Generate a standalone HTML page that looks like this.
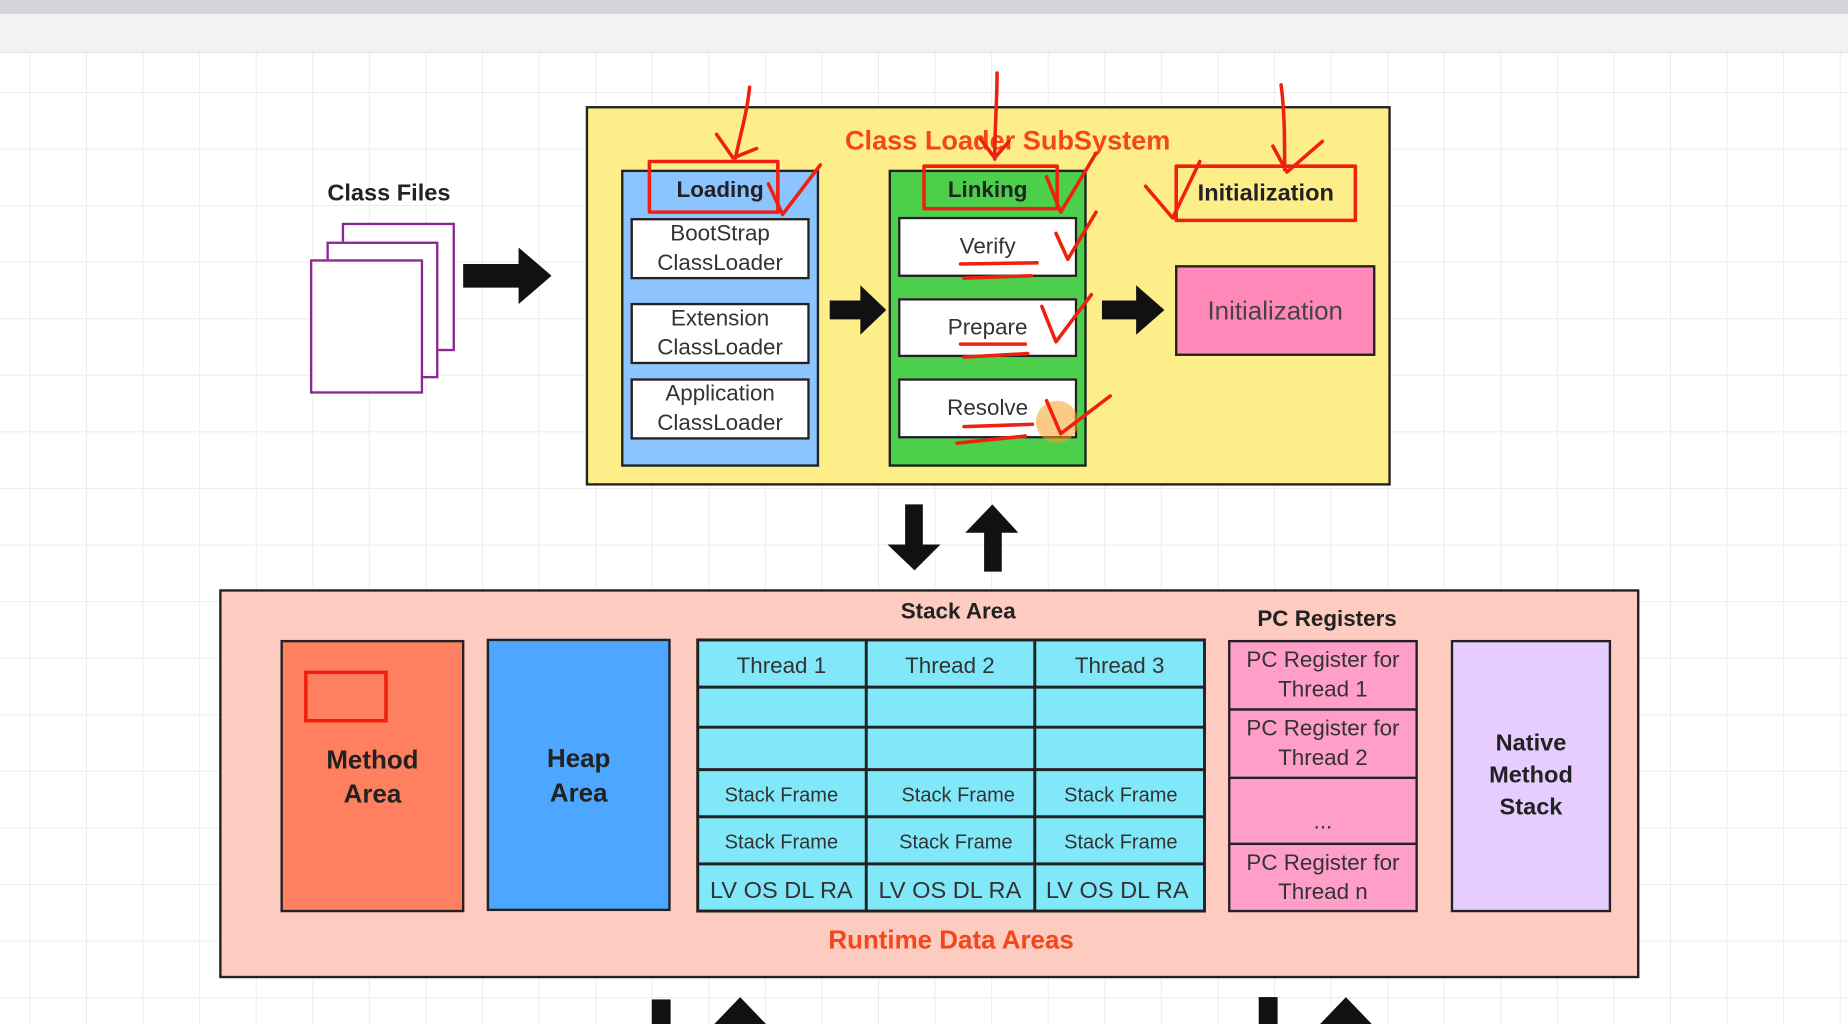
<!DOCTYPE html>
<html><head><meta charset="utf-8"><style>
html,body{margin:0;padding:0;width:1848px;height:1024px;overflow:hidden;background:#fff}
#w{position:absolute;left:0;top:0;width:1568px;height:869px;transform:scale(1.17857);transform-origin:0 0;font-family:"Liberation Sans","DejaVu Sans",sans-serif;
background-color:#fff;background-image:linear-gradient(#ececec 1px,transparent 1px),linear-gradient(90deg,#ececec 1px,transparent 1px);background-size:48px 48px;background-position:25px 30px}
.a{position:absolute;box-sizing:border-box}
.b{border:2px solid #222}
.c{display:flex;align-items:center;justify-content:center;text-align:center}
.t{color:#333;font-size:19px;line-height:25px}
.bold{font-weight:bold;color:#222}
.red{position:absolute;box-sizing:border-box;border:3px solid #f02010}
</style></head><body><div id="w">
<div class="a" style="left:0;top:0;width:1568px;height:12px;background:#d6d6da"></div>
<div class="a" style="left:0;top:12px;width:1568px;height:33px;background:#f2f2f2;border-bottom:1px solid #e4e4e4"></div>

<div class="a c bold" style="left:260px;top:150px;width:140px;height:28px;font-size:20px">Class Files</div>
<div class="a" style="left:290px;top:189px;width:96px;height:109px;border:2px solid #8a2a90;background:#fff"></div>
<div class="a" style="left:277px;top:205px;width:95px;height:116px;border:2px solid #8a2a90;background:#fff"></div>
<div class="a" style="left:263px;top:220px;width:96px;height:114px;border:2px solid #8a2a90;background:#fff"></div>

<div class="a b" style="left:497px;top:90px;width:683px;height:322px;background:#fdee8a"></div>
<div class="a c" style="left:650px;top:104px;width:410px;height:30px;font-size:23px;font-weight:bold;color:#f5451a">Class Loader SubSystem</div>

<div class="a b" style="left:527px;top:144px;width:168px;height:252px;background:#8cc4ff"></div>
<div class="a c bold" style="left:527px;top:148px;width:168px;height:28px;font-size:19px">Loading</div>
<div class="a b c t" style="left:535px;top:185px;width:152px;height:52px;background:#fff">BootStrap<br>ClassLoader</div>
<div class="a b c t" style="left:535px;top:257px;width:152px;height:52px;background:#fff">Extension<br>ClassLoader</div>
<div class="a b c t" style="left:535px;top:321px;width:152px;height:52px;background:#fff">Application<br>ClassLoader</div>

<div class="a b" style="left:754px;top:144px;width:168px;height:252px;background:#4cd04c"></div>
<div class="a c bold" style="left:754px;top:148px;width:168px;height:28px;font-size:19px">Linking</div>
<div class="a b c t" style="left:762px;top:184px;width:152px;height:51px;background:#fff">Verify</div>
<div class="a b c t" style="left:762px;top:253px;width:152px;height:50px;background:#fff">Prepare</div>
<div class="a b c t" style="left:762px;top:321px;width:152px;height:51px;background:#fff">Resolve</div>

<div class="a c bold" style="left:998px;top:143px;width:152px;height:42px;font-size:20px">Initialization</div>
<div class="a b c" style="left:997px;top:225px;width:170px;height:77px;background:#ff88b8;font-size:22px;color:#444">Initialization</div>

<div class="a b" style="left:186px;top:500px;width:1205px;height:330px;background:#fdcbbf"></div>
<div class="a b c bold" style="left:238px;top:543px;width:156px;height:231px;background:#ff8060;font-size:22px;line-height:29px">Method<br>Area</div>
<div class="red" style="left:258px;top:569px;width:71px;height:44px"></div>
<div class="a b c bold" style="left:413px;top:542px;width:156px;height:231px;background:#4da6ff;font-size:22px;line-height:29px">Heap<br>Area</div>

<div class="a c bold" style="left:713px;top:506px;width:200px;height:28px;font-size:19px">Stack Area</div>
<svg class="a" style="left:590px;top:541px" width="434" height="234">
<rect x="2" y="2" width="430" height="230" fill="#80e8f8" stroke="#222" stroke-width="2.5"/>
<g stroke="#222" stroke-width="2.5">
<line x1="145" y1="2" x2="145" y2="232"/><line x1="288" y1="2" x2="288" y2="232"/>
<line x1="2" y1="42" x2="432" y2="42"/><line x1="2" y1="76" x2="432" y2="76"/><line x1="2" y1="112" x2="432" y2="112"/><line x1="2" y1="152" x2="432" y2="152"/><line x1="2" y1="192" x2="432" y2="192"/>
</g>
<g font-family="Liberation Sans,sans-serif" fill="#333" text-anchor="middle">
<text x="73" y="30" font-size="19">Thread 1</text><text x="216" y="30" font-size="19">Thread 2</text><text x="360" y="30" font-size="19">Thread 3</text>
<text x="73" y="139" font-size="17">Stack Frame</text><text x="223" y="139" font-size="17">Stack Frame</text><text x="361" y="139" font-size="17">Stack Frame</text>
<text x="73" y="179" font-size="17">Stack Frame</text><text x="221" y="179" font-size="17">Stack Frame</text><text x="361" y="179" font-size="17">Stack Frame</text>
<text x="73" y="221" font-size="20">LV OS DL RA</text><text x="216" y="221" font-size="20">LV OS DL RA</text><text x="358" y="221" font-size="20">LV OS DL RA</text>
</g></svg>

<div class="a c bold" style="left:1026px;top:512px;width:200px;height:28px;font-size:19px">PC Registers</div>
<div class="a b c t" style="left:1042px;top:543px;width:161px;height:60px;background:#ff9ec8">PC Register for<br>Thread 1</div>
<div class="a b c t" style="left:1042px;top:601px;width:161px;height:60px;background:#ff9ec8">PC Register for<br>Thread 2</div>
<div class="a b c t" style="left:1042px;top:659px;width:161px;height:58px;background:#ff9ec8;padding-top:18px">...</div>
<div class="a b c t" style="left:1042px;top:715px;width:161px;height:59px;background:#ff9ec8">PC Register for<br>Thread n</div>
<div class="a b c bold" style="left:1231px;top:543px;width:136px;height:231px;background:#e6ccff;font-size:20px;line-height:27px">Native<br>Method<br>Stack</div>
<div class="a c" style="left:607px;top:783px;width:400px;height:30px;font-size:22px;font-weight:bold;color:#f5451a">Runtime Data Areas</div>

<svg class="a" style="left:0;top:0" width="1568" height="869">
<g fill="#111">
<polygon points="393,224 440,224 440,210 468,234 440,258 440,244 393,244"/>
<polygon points="704,255 730,255 730,242 752,263 730,284 730,271 704,271"/>
<polygon points="935,255 964,255 964,242 988,263 964,284 964,271 935,271"/>
<polygon points="768,428 783,428 783,462 798,462 776,484 753,462 768,462"/>
<polygon points="835,485 850,485 850,452 864,452 842,428 819,452 835,452"/>
<rect x="553" y="848" width="16" height="21"/>
<polygon points="606,869 628,846 650,869"/>
<rect x="1068" y="846" width="16" height="23"/>
<polygon points="1120,869 1142,846 1164,869"/>
</g>
<circle cx="897" cy="358" r="18" fill="#f5a020" opacity="0.55"/>
<g fill="none" stroke="#f02010" stroke-width="3" stroke-linecap="round" stroke-linejoin="round">
<rect x="551" y="137" width="109" height="43"/>
<rect x="784" y="141" width="113" height="36"/>
<rect x="998" y="141" width="152" height="46"/>
<path d="M636,74 C634,95 628,115 624,134 M608,114 L622,134 L642,126"/>
<path d="M846,62 C846,85 844,110 844,135 M832,118 L844,134 L856,120"/>
<path d="M1087,72 C1090,95 1090,118 1090,144 M1080,124 L1092,146 L1122,120"/>
<path d="M652,156 L664,182 L696,140"/>
<path d="M888,150 L900,180 L930,130"/>
<path d="M972,158 L995,185 L1018,137"/>
<path d="M896,198 L906,220 L930,180"/>
<path d="M884,260 L896,290 L926,250"/>
<path d="M888,340 L900,368 L942,336"/>
<path d="M815,224 L880,223 M818,236 L875,234"/>
<path d="M815,292 L870,292 M818,303 L872,300"/>
<path d="M818,362 L876,360 M812,376 L870,370"/>
</g></svg>
</div></body></html>
